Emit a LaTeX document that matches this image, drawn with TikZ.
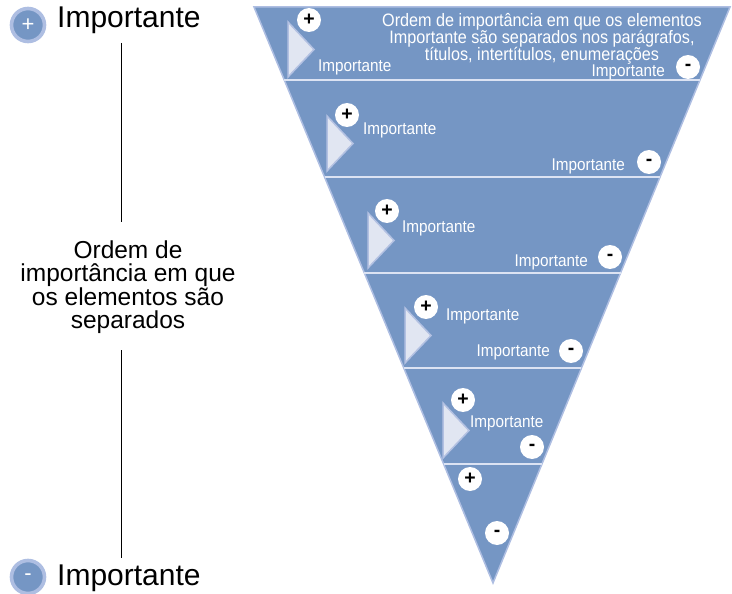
\documentclass[tikz,border=0pt]{standalone}
\usepackage{fontspec}
\setmainfont{Liberation Sans}
\newfontfamily\narrowfont{Liberation Sans}[FakeStretch=0.9]
\usetikzlibrary{calc,positioning}
\definecolor{bandblue}{HTML}{7596C4}
\definecolor{edgeblue}{HTML}{AEBEE2}
\definecolor{arrowfill}{HTML}{E1E6F2}
\definecolor{arrowedge}{HTML}{B3C1E2}
\definecolor{divline}{HTML}{DCE3F3}
\tikzstyle{sign} = [circle, fill=white, inner sep=0pt, minimum size=24pt,
font=\bfseries\fontsize{19.5}{19.5}\selectfont]
\tikzstyle{tag} = [text=white, inner sep=0pt, font=\narrowfont\fontsize{17}{17}\selectfont]
\tikzstyle{playtri} = [fill=arrowfill, draw=arrowedge, line width=1.5pt]
\tikzstyle{bigsign} = [circle, fill=bandblue, draw=edgeblue, line width=3.6pt,
minimum size=33pt, inner sep=0pt, text=white, font=\fontsize{22}{22}\selectfont]
\tikzset{>=stealth}

\begin{document}
\begin{tikzpicture}[x=1pt, y=-1pt]
            \useasboundingbox (0,0) rectangle (732,594);
            \node[bigsign] (topsign) at (28,25) {+};
            \node[anchor=base west, inner sep=0pt, font=\fontsize{30}{30}\selectfont] (toptag) at (57,28) {Importante};
            \node[bigsign] (botsign) at (28,577) {-};
            \node[anchor=base west, inner sep=0pt, font=\fontsize{30}{30}\selectfont] (bottag) at (57,585) {Importante};
            \node[align=center, inner sep=0pt, font=\fontsize{24.5}{23.5}\selectfont] (order) at (128,287) {Ordem de\\importância em que\\os elementos são\\separados};
            \coordinate (upA) at (121,43);
            \coordinate (upB) at (121,222);
            \coordinate (lowA) at (121,350);
            \coordinate (lowB) at (121,558);
            \draw[line width=0.8pt] (upA) -- (upB);
            \draw[line width=0.8pt] (lowA) -- (lowB);
            \coordinate (tl) at (254,7);
            \coordinate (tr) at (730,7);
            \coordinate (ap) at (493,583);
            \draw[fill=bandblue, draw=edgeblue, line width=1.5pt] (tl) -- (tr) -- (ap) -- cycle;
            \foreach \t in {0.1267,0.2951,0.4618,0.6267,0.7934}
                \draw[divline, line width=2pt] ($(tl)!\t!(ap)$) -- ($(tr)!\t!(ap)$);
            \foreach \x/\y in {288/22, 327/116, 368/213, 405/308, 443/403}
                \draw[playtri] (\x,\y) -- ++(26,27.5) -- ++(-26,27.5) -- cycle;
            \foreach \x/\y [count=\i] in {309/20, 347/115, 387/211, 426/307, 463/400, 470/479}
                \node[sign] (p\i) at (\x,\y) {+};
            \foreach \x/\y [count=\i] in {688/67, 649/162, 610/257, 571/351, 532/447, 497/533}
                \node[sign] (m\i) at (\x,\y) {-};
            \foreach \x/\y [count=\i] in {318/71.7, 363/135, 402/233, 446/320, 470/427}
                \node[tag, anchor=base west] (lt\i) at (\x,\y) {Importante};
            \foreach \x/\y [count=\i] in {665/76.5, 625/170, 588/266, 550/356}
                \node[tag, anchor=base east] (rt\i) at (\x,\y) {Importante};
            \node[tag, align=center, font=\narrowfont\fontsize{18}{17}\selectfont] (note) at (542,39)
            {Ordem de importância em que os elementos\\Importante são separados nos parágrafos,\\títulos, intertítulos, enumerações};
        \end{tikzpicture}
\end{document}
